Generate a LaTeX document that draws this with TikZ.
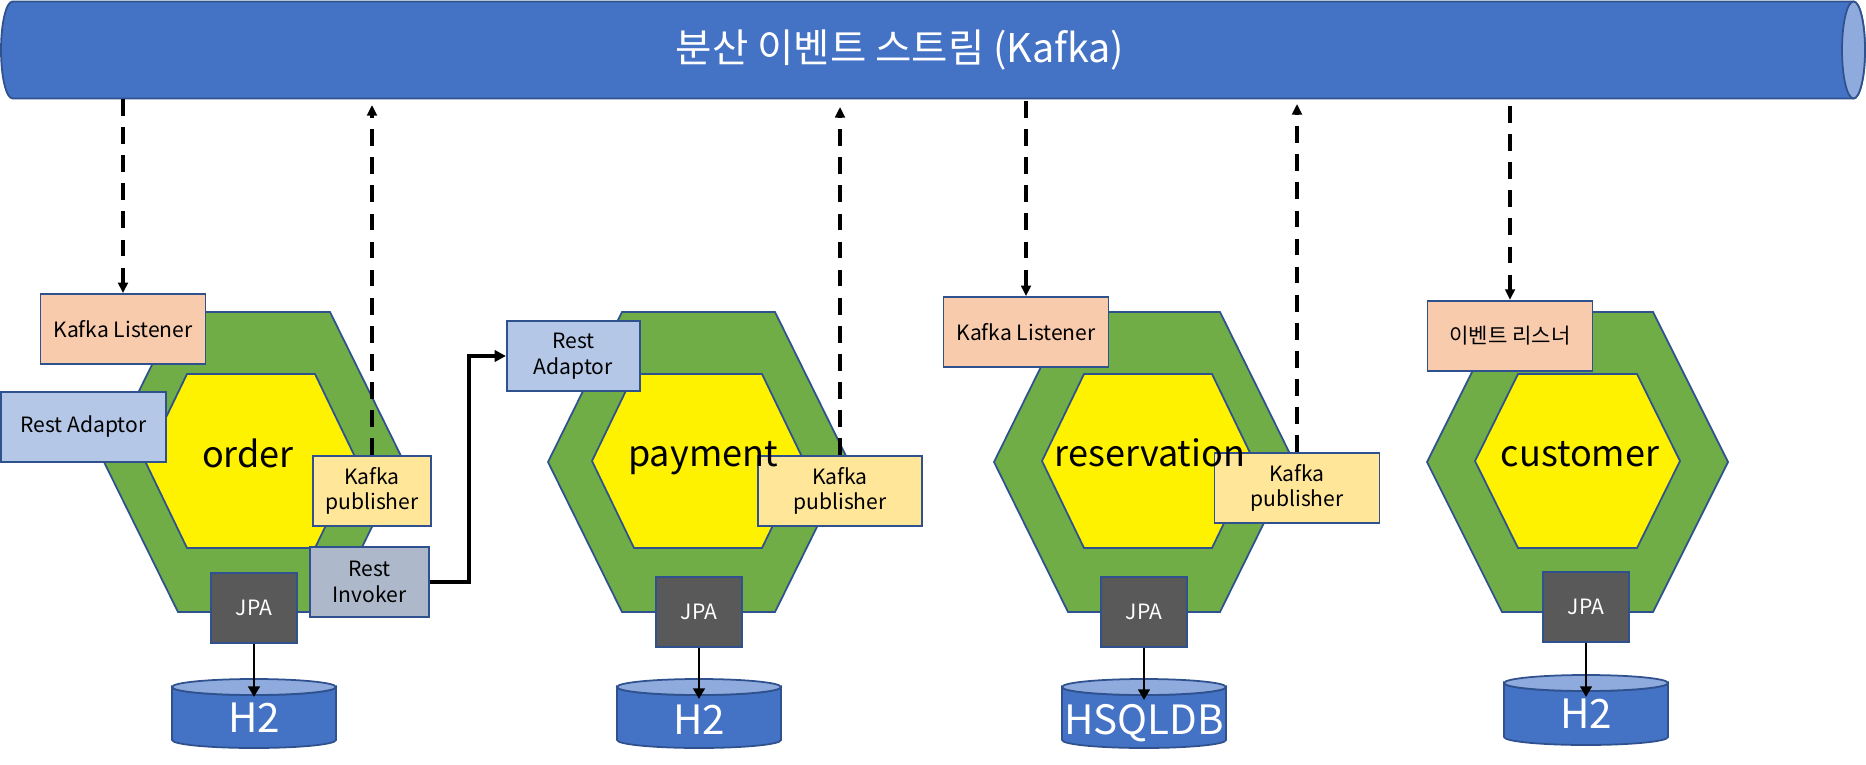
\documentclass[tikz,border=0pt]{standalone}
\usepackage{fontspec}
\setmainfont{Noto Sans CJK KR}
\usetikzlibrary{arrows.meta}

\definecolor{streamblue}{HTML}{4472C4}
\definecolor{streamface}{HTML}{8FAADC}
\definecolor{edgeblue}{HTML}{2F528F}
\definecolor{hexgreen}{HTML}{70AD47}
\definecolor{listenerfill}{HTML}{F8CBAD}
\definecolor{adaptorfill}{HTML}{B4C7E7}
\definecolor{publisherfill}{HTML}{FFE699}
\definecolor{invokerfill}{HTML}{ADB9CA}
\definecolor{jpafill}{HTML}{595959}

\begin{document}
\begin{tikzpicture}[x=0.02cm, y=-0.02cm,
  port/.style={draw=edgeblue, line width=1pt, minimum height=1.4cm, inner sep=0pt, align=center, font=\fontsize{12}{14.5}\selectfont},
  jpa/.style={port, fill=jpafill, text=white, minimum width=1.72cm},
  evt/.style={line width=2pt, dash pattern=on 9.5pt off 6.5pt, -{Triangle[length=6pt,width=5.5pt]}},
  restline/.style={line width=1.9pt, -{Triangle[length=6.5pt,width=6.5pt]}},
  jpaarrow/.style={line width=1.5pt, -{Triangle[length=6pt,width=6.5pt]}},
  hexouter/.style={fill=hexgreen, draw=edgeblue, line width=1pt},
  hexinner/.style={fill=yellow, draw=edgeblue, line width=1pt},
  hexlabel/.style={anchor=base, font=\fontsize{20.5}{25}\selectfont},
  drum/.style={fill=streamblue, draw=edgeblue, line width=1pt},
  drumtop/.style={fill=streamface, draw=edgeblue, line width=1pt},
  dblabel/.style={text=white, font=\fontsize{23}{27}\selectfont}]
  \useasboundingbox (0,0) rectangle (1866,764);

  % event stream
  \filldraw[drum] (12.5,1.5) -- (1853.5,1.5) arc (-90:90:11.5 and 48.5) -- (12.5,98.5) arc (90:270:11.5 and 48.5) -- cycle;
  \filldraw[drumtop] (1853.5,50) ellipse (11.5 and 48.5);
  \node[text=white, font=\fontsize{22.5}{27}\selectfont] (stream) at (900,50) {분산 이벤트 스트림 (Kafka)};

  % services
  \filldraw[hexouter] (178,312) -- (330,312) -- (404,462) -- (330,612) -- (178,612) -- (104,462) -- cycle;
  \filldraw[hexinner] (187,374) -- (315,374) -- (357,461) -- (315,548) -- (187,548) -- (145,461) -- cycle;
  \filldraw[hexouter] (622,312) -- (775,312) -- (849,462) -- (775,612) -- (622,612) -- (548,462) -- cycle;
  \filldraw[hexinner] (634,374) -- (762,374) -- (804,461) -- (762,548) -- (634,548) -- (592,461) -- cycle;
  \filldraw[hexouter] (1068,312) -- (1220,312) -- (1294,462) -- (1220,612) -- (1068,612) -- (994,462) -- cycle;
  \filldraw[hexinner] (1084,374) -- (1212,374) -- (1254,461) -- (1212,548) -- (1084,548) -- (1042,461) -- cycle;
  \filldraw[hexouter] (1502,312) -- (1653,312) -- (1728,462) -- (1653,612) -- (1502,612) -- (1427,462) -- cycle;
  \filldraw[hexinner] (1518,374) -- (1637,374) -- (1680,461) -- (1637,548) -- (1518,548) -- (1475,461) -- cycle;

  % databases
  \filldraw[drum] (172,687) -- (172,740) arc (180:0:82 and 8) -- (336,687) arc (0:180:82 and 8) -- cycle;
  \filldraw[drumtop] (254,687) ellipse (82 and 8);
  \filldraw[drum] (617,687) -- (617,740) arc (180:0:82 and 8) -- (781,687) arc (0:180:82 and 8) -- cycle;
  \filldraw[drumtop] (699,687) ellipse (82 and 8);
  \filldraw[drum] (1062,687) -- (1062,740) arc (180:0:82 and 8) -- (1226,687) arc (0:180:82 and 8) -- cycle;
  \filldraw[drumtop] (1144,687) ellipse (82 and 8);
  \filldraw[drum] (1504,683) -- (1504,737) arc (180:0:82 and 8) -- (1668,683) arc (0:180:82 and 8) -- cycle;
  \filldraw[drumtop] (1586,683) ellipse (82 and 8);
  \node[dblabel] (db1) at (254,718) {H2};
  \node[dblabel] (db2) at (699,720) {H2};
  \node[dblabel] (db3) at (1144,723) {HSQLDB};
  \node[dblabel] (db4) at (1586,714) {H2};
  \coordinate (db1top) at (254,697);
  \coordinate (db2top) at (699,699);
  \coordinate (db3top) at (1144,700);
  \coordinate (db4top) at (1586,697);

  % order
  \node[port, fill=listenerfill, minimum width=3.3cm] (kl1) at (123,329) {Kafka Listener};
  \node[port, fill=adaptorfill, minimum width=3.3cm] (ra1) at (83.5,427) {Rest Adaptor};
  \node[port, fill=publisherfill, minimum width=2.36cm] (kp1) at (372,491) {Kafka\\publisher};
  \node[port, fill=invokerfill, minimum width=2.38cm] (ri1) at (369.5,582) {Rest\\Invoker};
  \node[jpa] (jpa1) at (254,608) {JPA};

  % payment
  \node[port, fill=adaptorfill, minimum width=2.66cm] (ra2) at (573.3,356) {Rest\\Adaptor};
  \node[port, fill=publisherfill, minimum width=3.28cm] (kp2) at (840,491) {Kafka\\publisher};
  \node[jpa] (jpa2) at (699,611.7) {JPA};

  % reservation
  \node[port, fill=listenerfill, minimum width=3.3cm] (kl3) at (1026,332) {Kafka Listener};
  \node[port, fill=publisherfill, minimum width=3.3cm] (kp3) at (1297,488) {Kafka\\publisher};
  \node[jpa] (jpa3) at (1144,612) {JPA};

  % customer
  \node[port, fill=listenerfill, minimum width=3.3cm] (kl4) at (1510,335.7) {이벤트 리스너};
  \node[jpa] (jpa4) at (1586,607) {JPA};

  \node[hexlabel] (order) at (248,467) {order};
  \node[hexlabel] (payment) at (703,466) {payment};
  \node[hexlabel] (reservation) at (1150,466) {reservation};
  \node[hexlabel] (customer) at (1580,466) {customer};

  % events
  \draw[evt] (kl1.north |- 0,99) -- (kl1.north);
  \draw[evt] (kp1.north) -- (kp1.north |- 0,105);
  \draw[evt] (kp2.north) -- (kp2.north |- 0,107);
  \draw[evt] (kl3.north |- 0,101) -- (kl3.north);
  \draw[evt] (kp3.north) -- (kp3.north |- 0,104);
  \draw[evt] (kl4.north |- 0,106) -- (kl4.north);

  % rest call
  \draw[restline] (ri1.east) -- ++(39,0) |- (ra2.west);

  % persistence
  \draw[jpaarrow] (jpa1) -- (db1top);
  \draw[jpaarrow] (jpa2) -- (db2top);
  \draw[jpaarrow] (jpa3) -- (db3top);
  \draw[jpaarrow] (jpa4) -- (db4top);
\end{tikzpicture}
\end{document}
